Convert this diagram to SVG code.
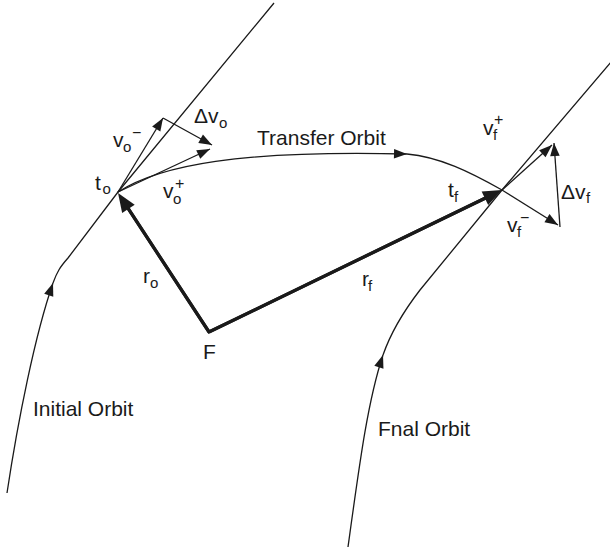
<svg xmlns="http://www.w3.org/2000/svg" width="610" height="552" viewBox="0 0 610 552">
<style>
  .orb { fill: none; stroke: #1a1a1a; stroke-width: 1.3; }
  .vec { fill: none; stroke: #1a1a1a; stroke-width: 1.3; }
  .rad { fill: none; stroke: #1a1a1a; stroke-width: 3.2; stroke-linejoin: miter; }
  text { font-family: "Liberation Sans", Arial, Helvetica, sans-serif; fill: #1a1a1a; }
  .lbl { font-size: 21px; }
  .sub { font-size: 15px; }
  .sup { font-size: 16px; }
</style>
<defs>
  <marker id="ah" markerUnits="userSpaceOnUse" markerWidth="15" markerHeight="12" viewBox="-14 -6 15 12" refX="0" refY="0" orient="auto" overflow="visible">
    <path d="M0,0 L-13,-4.8 L-13,4.8 Z" fill="#1a1a1a"/>
  </marker>
  <marker id="ahb" markerUnits="userSpaceOnUse" markerWidth="22" markerHeight="18" viewBox="-12 -9 22 18" refX="0" refY="0" orient="auto" overflow="visible">
    <path d="M8,0 L-11,-7.5 L-11,7.5 Z" fill="#1a1a1a"/>
  </marker>
</defs>

<rect x="0" y="0" width="610" height="552" fill="#ffffff"/>

<g id="initial-orbit">
  <path class="orb" d="M7,493 C18,420 35,335 53,283" marker-end="url(#ah)"/>
  <path class="orb" d="M53,283 C57,272 60,267 68,258 L118,192 L274,3"/>
  <text class="lbl" x="33" y="416">Initial Orbit</text>
</g>

<g id="transfer-orbit">
  <path class="orb" d="M118,192 C160,165 240,150 407,154" marker-end="url(#ah)"/>
  <path class="orb" d="M407,154 C440,157 470,172 502,190"/>
  <text class="lbl" x="257" y="145">Transfer Orbit</text>
</g>

<g id="final-orbit">
  <path class="orb" d="M348,547 C360,460 368,400 383,355" marker-end="url(#ah)"/>
  <path class="orb" d="M383,355 C390,335 403,312 420,290 L502,190 L612,61"/>
  <text class="lbl" x="378" y="436">Fnal Orbit</text>
</g>

<g id="focus">
  <text class="lbl" x="203" y="359">F</text>
</g>

<g id="connectors">
  <path class="rad" d="M122.4,199.7 L209,332 L494.8,193.5" />
  <path class="rad" d="M209,332 L122.4,199.7" marker-end="url(#ahb)"/>
  <path class="rad" d="M209,332 L494.8,193.5" marker-end="url(#ahb)"/>
  <path class="vec" d="M118,192 L163,118" marker-end="url(#ah)"/>
  <path class="vec" d="M163,118 L212,145" marker-end="url(#ah)"/>
  <path class="vec" d="M118,192 L210,149" marker-end="url(#ah)"/>
  <path class="vec" d="M502,190 L552,145" marker-end="url(#ah)"/>
  <path class="vec" d="M502,190 L558,225" marker-end="url(#ah)"/>
  <path class="vec" d="M560,227 L554,143" marker-end="url(#ah)"/>
</g>

<g id="labels">
  <text class="lbl" x="95" y="190">t</text><text class="sub" x="102.5" y="194">o</text>
  <text class="lbl" x="113" y="147">v</text><text class="sub" x="123" y="152">o</text><text class="sup" x="132" y="138">−</text>
  <text class="lbl" x="194" y="123">Δv</text><text class="sub" x="219" y="128">o</text>
  <text class="lbl" x="163" y="198">v</text><text class="sub" x="173" y="204">o</text><text class="sup" x="175" y="189">+</text>
  <text class="lbl" x="483" y="135">v</text><text class="sub" x="493" y="140">f</text><text class="sup" x="494" y="125">+</text>
  <text class="lbl" x="448" y="197">t</text><text class="sub" x="454" y="202">f</text>
  <text class="lbl" x="507" y="232">v</text><text class="sub" x="517" y="237">f</text><text class="sup" x="520" y="223">−</text>
  <text class="lbl" x="561" y="199">Δv</text><text class="sub" x="586" y="203">f</text>
  <text class="lbl" x="143" y="283">r</text><text class="sub" x="150" y="288">o</text>
  <text class="lbl" x="362" y="286">r</text><text class="sub" x="368" y="291">f</text>
</g>
</svg>
